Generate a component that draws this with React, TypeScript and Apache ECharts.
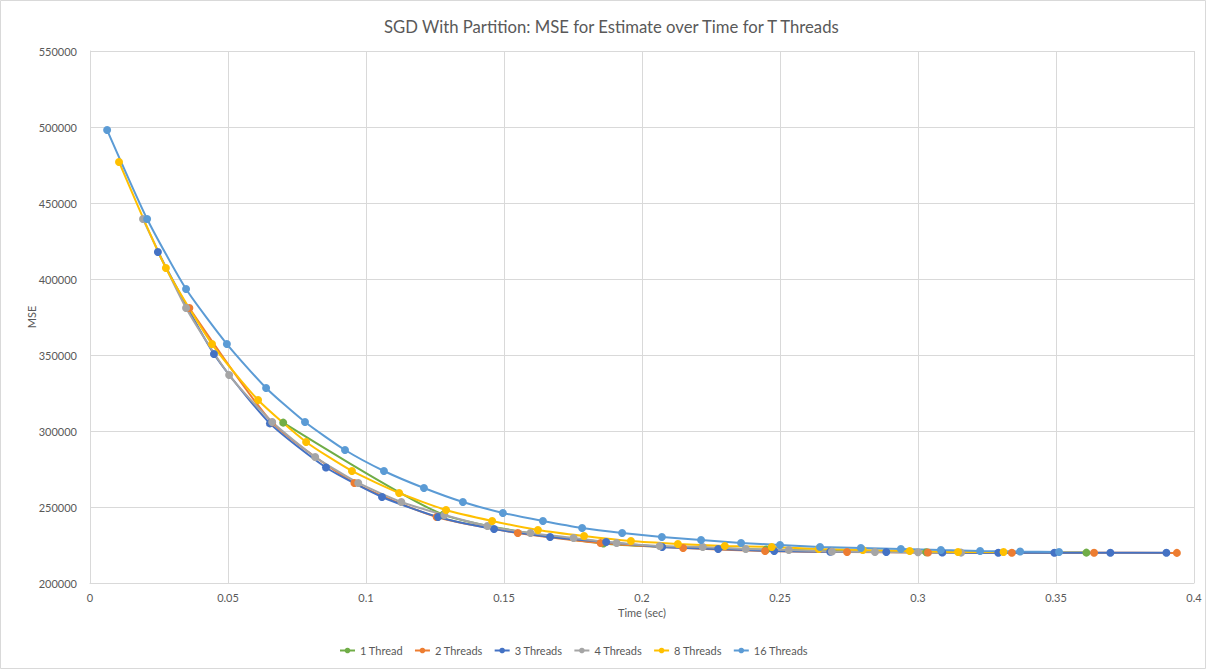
import React, { useEffect, useRef } from "react";
import * as echarts from "echarts";

// Time (sec) and MSE samples for each thread count
const oneThreadTime = [0.07, 0.128, 0.186, 0.245, 0.303, 0.361];
const oneThreadMse = [305500, 245000, 226000, 222000, 220200, 220000];

const twoThreadTime = [0.036, 0.066, 0.0958, 0.1256, 0.155, 0.185, 0.2149, 0.2446, 0.2743, 0.3036, 0.334, 0.3638, 0.3938];
const twoThreadMse = [380900, 305500, 265800, 243400, 232900, 226300, 223000, 221000, 220400, 220100, 219900, 219900, 219800];

const threeThreadTime = [0.0246, 0.0449, 0.0652, 0.0855, 0.1058, 0.1261, 0.1464, 0.1667, 0.187, 0.2073, 0.2276, 0.2479, 0.2682, 0.2885, 0.3088, 0.3291, 0.3494, 0.3697, 0.39];
const threeThreadMse = [417800, 350700, 305000, 276000, 256600, 243400, 235500, 230300, 227000, 223700, 222400, 221000, 220600, 220400, 220100, 219900, 219900, 219900, 219900];

const fourThreadTime = [0.0192, 0.0348, 0.0504, 0.066, 0.0816, 0.0972, 0.1128, 0.1284, 0.144, 0.1596, 0.1752, 0.1908, 0.2064, 0.222, 0.2376, 0.2532, 0.2688, 0.2844, 0.3, 0.3156];
const fourThreadMse = [439500, 380900, 336800, 305900, 282900, 265800, 253300, 244700, 237500, 232900, 229600, 226300, 224300, 223700, 222400, 221700, 220700, 220400, 220200, 220000];

const eightThreadTime = [0.0105, 0.0275, 0.0442, 0.0609, 0.0783, 0.0949, 0.112, 0.129, 0.1457, 0.1623, 0.179, 0.196, 0.213, 0.23, 0.247, 0.264, 0.28, 0.297, 0.3145, 0.331];
const eightThreadMse = [477000, 407200, 357200, 320400, 292800, 273700, 259200, 248000, 240800, 234900, 230900, 227600, 225700, 224300, 223700, 222400, 221700, 221100, 220400, 220400];

const sixteenThreadTime = [0.0062, 0.0207, 0.0348, 0.0496, 0.0638, 0.0779, 0.0924, 0.1065, 0.121, 0.1351, 0.1496, 0.1641, 0.1783, 0.1928, 0.2072, 0.2214, 0.2359, 0.25, 0.2645, 0.2793, 0.2938, 0.3083, 0.3225, 0.337, 0.3511];
const sixteenThreadMse = [498000, 439500, 393400, 357200, 328300, 305900, 287500, 273700, 262500, 253300, 246100, 240800, 236200, 232900, 230300, 228300, 226300, 225000, 223700, 223000, 222400, 221700, 221100, 220700, 220400];

const seriesNames = ["1 Thread", "2 Threads", "3 Threads", "4 Threads", "8 Threads", "16 Threads"];
const seriesColors = ["#70AD47", "#ED7D31", "#4472C4", "#A5A5A5", "#FFC000", "#5B9BD5"];
const seriesTimes = [oneThreadTime, twoThreadTime, threeThreadTime, fourThreadTime, eightThreadTime, sixteenThreadTime];
const seriesMses = [oneThreadMse, twoThreadMse, threeThreadMse, fourThreadMse, eightThreadMse, sixteenThreadMse];

const FONT = "Lato";
const TEXT = "#595959";
const GRID = "#D9D9D9";

export default function App() {
  const ref = useRef<HTMLDivElement>(null);

  useEffect(() => {
    if (!ref.current) return;
    const chart = echarts.init(ref.current, undefined, { renderer: "svg" });

    const series = seriesNames.map((name, i) => ({
      name,
      type: "line",
      data: seriesTimes[i].map((t, j) => [t, seriesMses[i][j]]),
      smooth: 0.2,
      symbol: "circle",
      symbolSize: 8,
      showSymbol: true,
      lineStyle: { width: 2, color: seriesColors[i] },
      itemStyle: { color: seriesColors[i] },
      emphasis: { disabled: true },
    }));

    chart.setOption({
      animation: false,
      backgroundColor: "#ffffff",
      title: {
        text: "SGD With Partition: MSE for Estimate over Time for T Threads",
        left: 379,
        top: 13,
        textStyle: { fontFamily: FONT, fontSize: 16.7, fontWeight: "normal", color: TEXT },
      },
      legend: {
        bottom: 8,
        left: 334,
        itemWidth: 15,
        itemHeight: 7,
        itemGap: 11,
        textStyle: { fontFamily: FONT, fontSize: 11, color: TEXT },
        data: seriesNames,
      },
      grid: { left: 90, right: 12, top: 51, bottom: 86, containLabel: false },
      xAxis: {
        type: "value",
        min: 0,
        max: 0.4,
        interval: 0.05,
        name: "Time (sec)",
        nameLocation: "middle",
        nameGap: 24,
        nameMoveOverlap: false,
        nameTextStyle: { fontFamily: FONT, fontSize: 11, color: TEXT },
        axisLine: { show: true, lineStyle: { color: GRID } },
        axisTick: { show: false },
        axisLabel: { fontFamily: FONT, fontSize: 11, color: TEXT, margin: 9 },
        splitLine: { show: true, lineStyle: { color: GRID, width: 1 } },
      },
      yAxis: {
        type: "value",
        min: 200000,
        max: 550000,
        interval: 50000,
        name: "MSE",
        nameLocation: "middle",
        nameGap: 53,
        nameMoveOverlap: false,
        nameTextStyle: { fontFamily: FONT, fontSize: 11, color: TEXT },
        axisLine: { show: true, lineStyle: { color: GRID } },
        axisTick: { show: false },
        axisLabel: {
          fontFamily: FONT,
          fontSize: 11,
          color: TEXT,
          margin: 13,
          formatter: (v: number) => String(v),
        },
        splitLine: { show: true, lineStyle: { color: GRID, width: 1 } },
      },
      graphic: [
        {
          type: "rect",
          shape: { x: 0.5, y: 0.5, width: 1205, height: 668 },
          style: { fill: "none", stroke: GRID, lineWidth: 1 },
          silent: true,
        },
      ],
      series,
    });

    return () => chart.dispose();
  }, []);

  return (
    <div
      ref={ref}
      style={{ position: "fixed", left: 0, top: 0, width: 1206, height: 669 }}
    />
  );
}
